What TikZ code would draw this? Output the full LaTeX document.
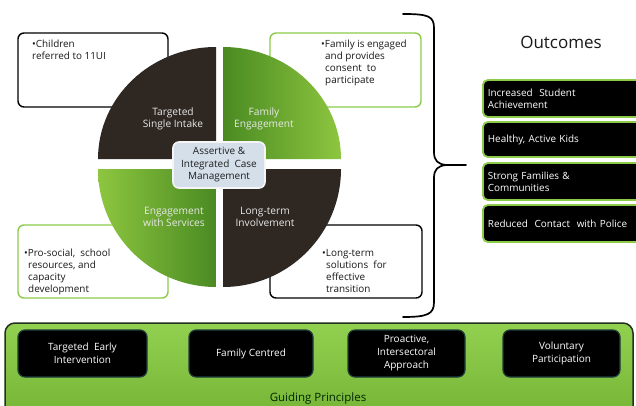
\documentclass[tikz,border=0pt]{standalone}
\usepackage{fontspec}
\setmainfont{Open Sans}
\definecolor{darkq}{HTML}{2E2722}
\definecolor{glight}{HTML}{8DC63F}
\definecolor{gdark}{HTML}{4A8A22}
\definecolor{gborder}{HTML}{8CCB4A}
\definecolor{cfill}{HTML}{D4DFEA}
\definecolor{ptop}{HTML}{92D050}
\definecolor{pbot}{HTML}{76B436}
\definecolor{pborder}{HTML}{23301F}
\definecolor{iborder}{HTML}{1E3F3D}
\definecolor{qtext}{HTML}{E8E8E8}
\tikzset{
  infobox/.style={draw=#1, fill=white, rounded corners=6pt, line width=1.4pt,
    minimum width=150, minimum height=74, inner sep=0pt},
  infotext/.style={anchor=base west, align=left, inner sep=0pt, text=black!90,
    font=\fontsize{9.9}{12}\selectfont},
  quadtext/.style={align=center, text=qtext, font=\fontsize{10.2}{12}\selectfont},
  outbox/.style={draw=gborder, fill=black, rounded corners=5pt, line width=1.8pt,
    anchor=west, minimum width=170, text width=160, inner xsep=5pt, align=left,
    text=white, font=\fontsize{9.9}{12}\selectfont},
  princbox/.style={draw=iborder, fill=black, rounded corners=7pt, line width=1.2pt,
    minimum height=47, align=center, text=white, font=\fontsize{10}{13}\selectfont},
}
\begin{document}
\begin{tikzpicture}[x=1pt,y=-1pt]
\useasboundingbox (0,0) rectangle (636,406);
\clip (0,0) rectangle (636,406);
\fill[white] (0,0) rectangle (636,406);

% background info boxes
\node[infobox=black] (b1) at (93,70) {};
\node[infobox=gborder, minimum width=151] (b2) at (345.5,70) {};
\node[infobox=gborder, minimum height=73] (b3) at (93,261.5) {};
\node[infobox=black, minimum width=152, minimum height=73] (b4) at (346,261.5) {};

% quadrants
\fill[darkq] (216,159) -- ++(-118,0) arc[start angle=180, end angle=270, x radius=118, y radius=112] -- cycle;
\shade[left color=gdark, right color=glight] (223,159) -- ++(0,-112) arc[start angle=270, end angle=360, x radius=118, y radius=112] -- cycle;
\fill[darkq] (223,169) -- ++(118,0) arc[start angle=0, end angle=90, radius=118] -- cycle;
\shade[left color=glight, right color=gdark] (216,169) -- ++(0,118) arc[start angle=90, end angle=180, radius=118] -- cycle;

\node[quadtext] (q1) at (173,119) {Targeted\\Single Intake};
\node[quadtext] (q2) at (264,119) {Family\\Engagement};
\node[quadtext] (q3) at (174,217) {Engagement\\with Services};
\node[quadtext] (q4) at (265,217) {Long-term\\Involvement};

\node[draw=white!92!gray, fill=cfill, line width=1.6pt, rounded corners=6pt,
  minimum width=92, minimum height=46, inner sep=2pt, align=center, text=black!88,
  font=\fontsize{10}{12.5}\selectfont] (core) at (219,165)
  {Assertive \&\\Integrated\ \ Case\\Management};

% info texts
\node[infotext] (t1) at (32,59.5) {•Children\\referred to 11UI};
\node[infotext] (t2) at (321,83.5) {•Family is engaged\\\hspace*{4pt}and provides\\\hspace*{4pt}consent\ \ to\\\hspace*{4pt}participate};
\node[infotext] (t3) at (24,292.5) {•Pro-social,\ \ school\\\hspace*{4pt}resources,\ and\\\hspace*{4pt}capacity\\\hspace*{4pt}development};
\node[infotext] (t4) at (322,292.5) {•Long-term\\\hspace*{4pt}solutions\ \ for\\\hspace*{4pt}effective\\\hspace*{4pt}transition};

% brace
\coordinate (bt) at (403,14);
\coordinate (bb) at (403,317);
\coordinate (tip) at (446,165);
\coordinate (tipend) at (466,165);
\draw[line width=1.7pt, line cap=round]
  (bt) .. controls (428,14) and (434,16) .. (434,28) -- (434,152)
  .. controls (434,161) and (438,164) .. (tip) -- (tipend);
\draw[line width=1.7pt, line cap=round]
  (tip) .. controls (438,166) and (434,169) .. (434,178) -- (434,302)
  .. controls (434,314) and (428,317) .. (bb);

% outcomes
\node[font=\fontsize{17}{20}\selectfont, text=black!90] (otitle) at (561,42) {Outcomes};
\node[outbox, minimum height=37] (o1) at (482,98.5) {Increased\ \ Student\\Achievement};
\node[outbox, minimum height=35] (o2) at (482,139.5) {Healthy,\ Active\ Kids};
\node[outbox, minimum height=37] (o3) at (482,181.5) {Strong Families \&\\Communities};
\node[outbox, minimum height=37] (o4) at (482,223.5) {Reduced\ \ Contact\ \ with Police};

% guiding principles panel
\draw[pborder, line width=1.5pt, rounded corners=10pt, top color=ptop, bottom color=pbot]
  (5,323) rectangle (633,418);
\node[princbox, minimum width=129] (p1) at (82.5,353.5) {Targeted\ \ Early\\Intervention};
\node[princbox, minimum width=124] (p2) at (251,353.5) {Family Centred};
\node[princbox, minimum width=117] (p3) at (406.5,353.5) {Proactive,\\Intersectoral\\Approach};
\node[princbox, minimum width=117] (p4) at (561.5,353.5) {Voluntary\\Participation};
\node[font=\fontsize{11.5}{13}\selectfont, text=black!85!green, anchor=base] (gp) at (318,401.5) {Guiding Principles};
\end{tikzpicture}
\end{document}
